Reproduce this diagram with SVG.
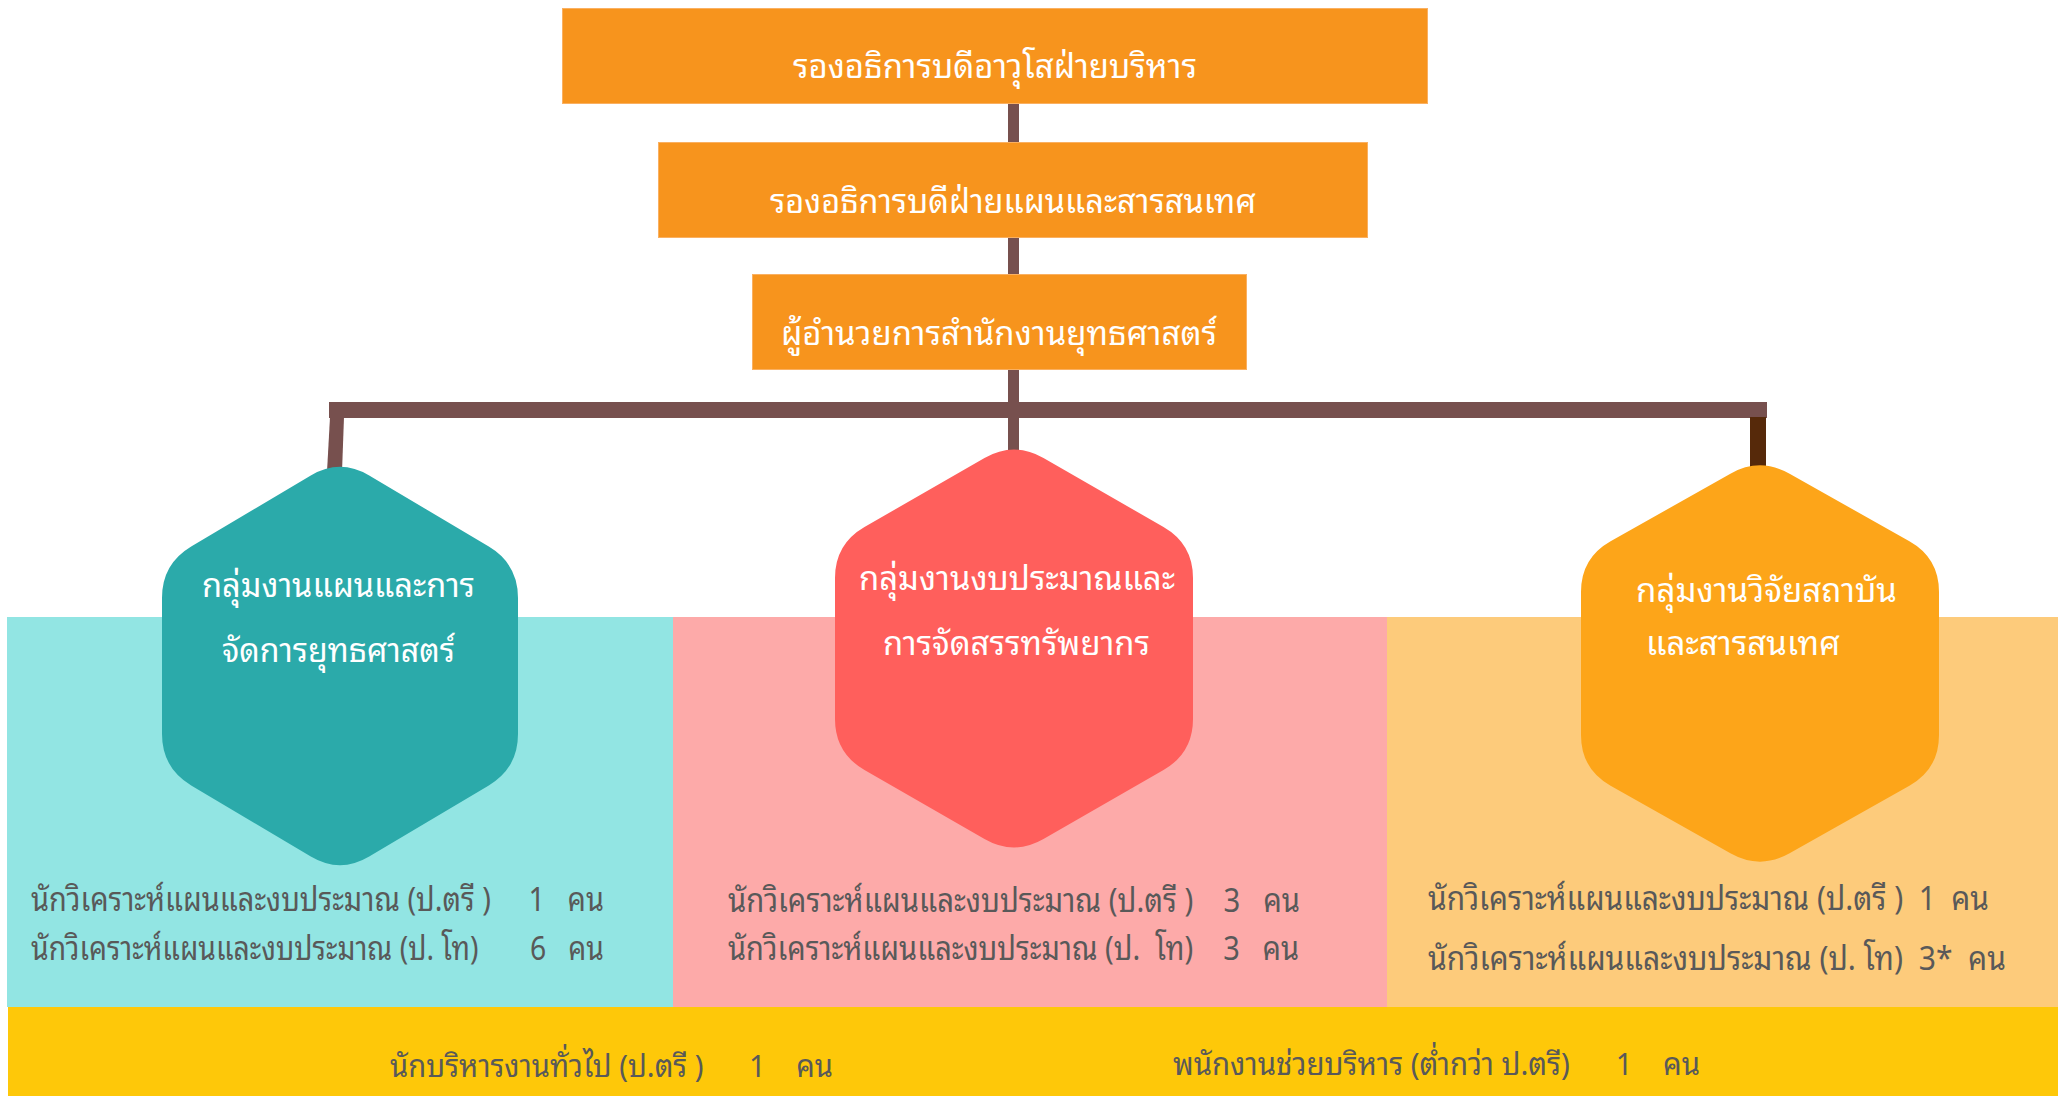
<svg xmlns="http://www.w3.org/2000/svg" width="2064" height="1096" viewBox="0 0 2064 1096">
<style>
text{font-family:"Noto Sans Thai Looped","Noto Sans Thai","Noto Sans",sans-serif}
.w{fill:#ffffff;font-size:34px}
.g{fill:#595959;font-size:33px;white-space:pre}
.b{fill:#595959;font-size:31px;white-space:pre}
.box{fill:#F7941D;stroke:#FAB061;stroke-width:1}
.con{fill:#77504E}
</style>
<rect width="2064" height="1096" fill="#ffffff"/>
<g id="panels">
<rect x="7" y="617" width="666" height="390" fill="#92E5E3"/>
<rect x="1387" y="617" width="671" height="390" fill="#FDCB7B"/>
<rect x="673" y="617" width="714" height="390" fill="#FDAAA9"/>
<rect x="8" y="1007" width="2050" height="89" fill="#FEC809"/>
</g>
<g id="connectors">
<rect class="con" x="1008" y="102" width="11" height="42"/>
<rect class="con" x="1008" y="237" width="11" height="39"/>
<rect class="con" x="1008" y="369" width="11" height="84"/>
<rect class="con" x="329" y="402" width="1438" height="16"/>
<polygon class="con" points="330,417 344,417 342,472 327,472"/>
<rect x="1750" y="417" width="16" height="52" fill="#56290A"/>
</g>
<g id="n1"><rect class="box" x="562.5" y="8.5" width="865" height="95"/><text class="w" x="793" y="78" textLength="404" lengthAdjust="spacingAndGlyphs">รองอธิการบดีอาวุโสฝ่ายบริหาร</text></g>
<g id="n2"><rect class="box" x="658.5" y="142.5" width="709" height="95"/><text class="w" x="770" y="213" textLength="486" lengthAdjust="spacingAndGlyphs">รองอธิการบดีฝ่ายแผนและสารสนเทศ</text></g>
<g id="n3"><rect class="box" x="752.5" y="274.5" width="494" height="95"/><text class="w" x="781" y="345" textLength="436" lengthAdjust="spacingAndGlyphs">ผู้อำนวยการสำนักงานยุทธศาสตร์</text></g>
<g id="g1">
<path fill="#2BAAAA" d="M 369.2 475.4 L 488.8 546.6 Q 518 564 518 598 L 518 734 Q 518 768 488.8 785.4 L 369.2 856.6 Q 340 874 310.8 856.6 L 191.2 785.4 Q 162 768 162 734 L 162 598 Q 162 564 191.2 546.6 L 310.8 475.4 Q 340 458 369.2 475.4 Z"/>
<text class="w" x="202" y="597" textLength="273" lengthAdjust="spacingAndGlyphs">กลุ่มงานแผนและการ</text>
<text class="w" x="222" y="662" textLength="233" lengthAdjust="spacingAndGlyphs">จัดการยุทธศาสตร์</text>
</g>
<g id="g2">
<path fill="#FF5F5C" d="M 1043.5 458 L 1163.5 527 Q 1193 544 1193 578 L 1193 719 Q 1193 753 1163.5 770 L 1043.5 839 Q 1014 856 984.5 839 L 864.5 770 Q 835 753 835 719 L 835 578 Q 835 544 864.5 527 L 984.5 458 Q 1014 441 1043.5 458 Z"/>
<text class="w" x="859" y="590" textLength="316" lengthAdjust="spacingAndGlyphs">กลุ่มงานงบประมาณและ</text>
<text class="w" x="883" y="655" textLength="267" lengthAdjust="spacingAndGlyphs">การจัดสรรทรัพยากร</text>
</g>
<g id="g3">
<path fill="#FDA519" d="M 1789.6 473.7 L 1909.4 541.3 Q 1939 558 1939 592 L 1939 735 Q 1939 769 1909.4 785.7 L 1789.6 853.3 Q 1760 870 1730.4 853.3 L 1610.6 785.7 Q 1581 769 1581 735 L 1581 592 Q 1581 558 1610.6 541.3 L 1730.4 473.7 Q 1760 457 1789.6 473.7 Z"/>
<text class="w" x="1636" y="602" textLength="261" lengthAdjust="spacingAndGlyphs">กลุ่มงานวิจัยสถาบัน</text>
<text class="w" x="1646" y="655" textLength="194" lengthAdjust="spacingAndGlyphs">และสารสนเทศ</text>
</g>
<g id="staff">
<text class="g" xml:space="preserve" x="31" y="911" textLength="573" lengthAdjust="spacingAndGlyphs">นักวิเคราะห์แผนและงบประมาณ (ป.ตรี )     1   คน</text>
<text class="g" xml:space="preserve" x="31" y="960" textLength="573" lengthAdjust="spacingAndGlyphs">นักวิเคราะห์แผนและงบประมาณ (ป. โท)       6   คน</text>
<text class="g" xml:space="preserve" x="728" y="912" textLength="572" lengthAdjust="spacingAndGlyphs">นักวิเคราะห์แผนและงบประมาณ (ป.ตรี )    3   คน</text>
<text class="g" xml:space="preserve" x="728" y="960" textLength="571" lengthAdjust="spacingAndGlyphs">นักวิเคราะห์แผนและงบประมาณ (ป.  โท)    3   คน</text>
<text class="g" xml:space="preserve" x="1428" y="910" textLength="561" lengthAdjust="spacingAndGlyphs">นักวิเคราะห์แผนและงบประมาณ (ป.ตรี )  1  คน</text>
<text class="g" xml:space="preserve" x="1428" y="970" textLength="578" lengthAdjust="spacingAndGlyphs">นักวิเคราะห์แผนและงบประมาณ (ป. โท)  3*  คน</text>
<text class="b" xml:space="preserve" x="390" y="1077" textLength="443" lengthAdjust="spacingAndGlyphs">นักบริหารงานทั่วไป (ป.ตรี )      1    คน</text>
<text class="b" xml:space="preserve" x="1173" y="1075" textLength="527" lengthAdjust="spacingAndGlyphs">พนักงานช่วยบริหาร (ต่ำกว่า ป.ตรี)      1    คน</text>
</g>
</svg>
